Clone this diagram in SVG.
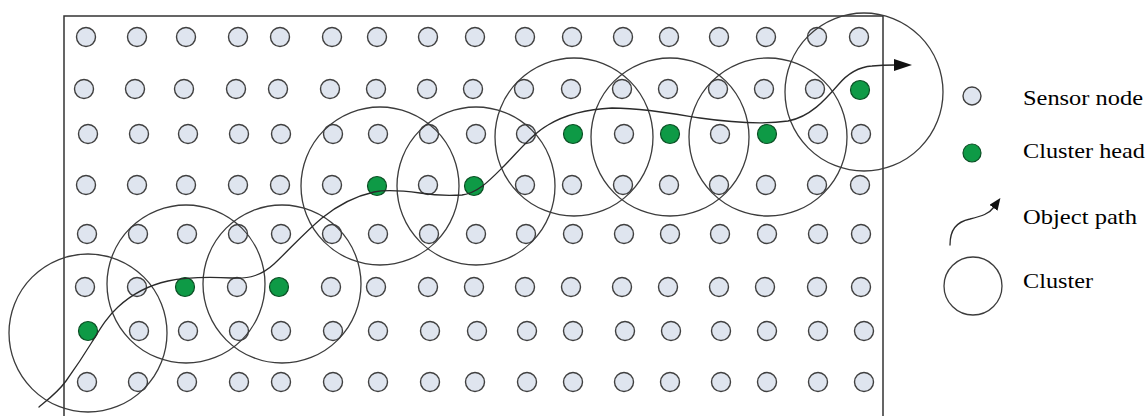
<svg xmlns="http://www.w3.org/2000/svg" width="1146" height="416" viewBox="0 0 1146 416">
<style>
.sn{fill:#dfe5ef;stroke:#404040;stroke-width:1.4}
.ch{fill:#0e9a46;stroke:#0b4f24;stroke-width:1.2}
.cl{fill:none;stroke:#3c3c3c;stroke-width:1.3}
.pa{fill:none;stroke:#2a2a2a;stroke-width:1.3;stroke-linejoin:round;stroke-linecap:round}
.lg{font-family:"Liberation Serif","Times New Roman",serif;font-size:22px;fill:#000}
</style>
<defs>
<marker id="ah" viewBox="0 0 18 12" refX="1" refY="6" markerWidth="18" markerHeight="12" markerUnits="userSpaceOnUse" orient="auto"><path d="M0,0 L18,6 L0,12 z" fill="#111"/></marker>
<marker id="ahs" viewBox="0 0 12 10" refX="1" refY="5" markerWidth="12" markerHeight="10" markerUnits="userSpaceOnUse" orient="auto"><path d="M0,0 L12,5 L0,10 z" fill="#111"/></marker>
</defs>
<rect width="1146" height="416" fill="#fff"/>
<rect id="field" x="64" y="16" width="819" height="420" fill="none" stroke="#333" stroke-width="1.5"/>
<g id="sensors">
<g id="n1-1"><circle class="sn" cx="86" cy="37" r="9.5"/></g>
<g id="n1-2"><circle class="sn" cx="137" cy="37" r="9.5"/></g>
<g id="n1-3"><circle class="sn" cx="186" cy="37" r="9.5"/></g>
<g id="n1-4"><circle class="sn" cx="238" cy="37" r="9.5"/></g>
<g id="n1-5"><circle class="sn" cx="280" cy="37" r="9.5"/></g>
<g id="n1-6"><circle class="sn" cx="332" cy="37" r="9.5"/></g>
<g id="n1-7"><circle class="sn" cx="377" cy="37" r="9.5"/></g>
<g id="n1-8"><circle class="sn" cx="428" cy="37" r="9.5"/></g>
<g id="n1-9"><circle class="sn" cx="475" cy="37" r="9.5"/></g>
<g id="n1-10"><circle class="sn" cx="525" cy="37" r="9.5"/></g>
<g id="n1-11"><circle class="sn" cx="572" cy="37" r="9.5"/></g>
<g id="n1-12"><circle class="sn" cx="623" cy="37" r="9.5"/></g>
<g id="n1-13"><circle class="sn" cx="669" cy="37" r="9.5"/></g>
<g id="n1-14"><circle class="sn" cx="719" cy="37" r="9.5"/></g>
<g id="n1-15"><circle class="sn" cx="766" cy="37" r="9.5"/></g>
<g id="n1-16"><circle class="sn" cx="817" cy="37" r="9.5"/></g>
<g id="n1-17"><circle class="sn" cx="859" cy="37" r="9.5"/></g>

<g id="n2-1"><circle class="sn" cx="84" cy="89" r="9.5"/></g>
<g id="n2-2"><circle class="sn" cx="135" cy="89" r="9.5"/></g>
<g id="n2-3"><circle class="sn" cx="184" cy="89" r="9.5"/></g>
<g id="n2-4"><circle class="sn" cx="236" cy="89" r="9.5"/></g>
<g id="n2-5"><circle class="sn" cx="278" cy="89" r="9.5"/></g>
<g id="n2-6"><circle class="sn" cx="330" cy="89" r="9.5"/></g>
<g id="n2-7"><circle class="sn" cx="376" cy="89" r="9.5"/></g>
<g id="n2-8"><circle class="sn" cx="427" cy="89" r="9.5"/></g>
<g id="n2-9"><circle class="sn" cx="473" cy="89" r="9.5"/></g>
<g id="n2-10"><circle class="sn" cx="524" cy="89" r="9.5"/></g>
<g id="n2-11"><circle class="sn" cx="571" cy="89" r="9.5"/></g>
<g id="n2-12"><circle class="sn" cx="622" cy="89" r="9.5"/></g>
<g id="n2-13"><circle class="sn" cx="668" cy="89" r="9.5"/></g>
<g id="n2-14"><circle class="sn" cx="718" cy="89" r="9.5"/></g>
<g id="n2-15"><circle class="sn" cx="764" cy="89" r="9.5"/></g>
<g id="n2-16"><circle class="sn" cx="815" cy="89" r="9.5"/></g>
<g id="n2-17"><circle class="ch" cx="860" cy="90" r="9.5"/></g>

<g id="n3-1"><circle class="sn" cx="88" cy="134" r="9.5"/></g>
<g id="n3-2"><circle class="sn" cx="139" cy="134" r="9.5"/></g>
<g id="n3-3"><circle class="sn" cx="188" cy="134" r="9.5"/></g>
<g id="n3-4"><circle class="sn" cx="239" cy="134" r="9.5"/></g>
<g id="n3-5"><circle class="sn" cx="281" cy="134" r="9.5"/></g>
<g id="n3-6"><circle class="sn" cx="333" cy="134" r="9.5"/></g>
<g id="n3-7"><circle class="sn" cx="378" cy="134" r="9.5"/></g>
<g id="n3-8"><circle class="sn" cx="429" cy="134" r="9.5"/></g>
<g id="n3-9"><circle class="sn" cx="476" cy="134" r="9.5"/></g>
<g id="n3-10"><circle class="sn" cx="526" cy="134" r="9.5"/></g>
<g id="n3-11"><circle class="ch" cx="573" cy="134" r="9.5"/></g>
<g id="n3-12"><circle class="sn" cx="624" cy="134" r="9.5"/></g>
<g id="n3-13"><circle class="ch" cx="670" cy="134" r="9.5"/></g>
<g id="n3-14"><circle class="sn" cx="720" cy="134" r="9.5"/></g>
<g id="n3-15"><circle class="ch" cx="767" cy="134" r="9.5"/></g>
<g id="n3-16"><circle class="sn" cx="818" cy="134" r="9.5"/></g>
<g id="n3-17"><circle class="sn" cx="861" cy="134" r="9.5"/></g>

<g id="n4-1"><circle class="sn" cx="86" cy="185" r="9.5"/></g>
<g id="n4-2"><circle class="sn" cx="137" cy="185" r="9.5"/></g>
<g id="n4-3"><circle class="sn" cx="186" cy="185" r="9.5"/></g>
<g id="n4-4"><circle class="sn" cx="238" cy="185" r="9.5"/></g>
<g id="n4-5"><circle class="sn" cx="280" cy="185" r="9.5"/></g>
<g id="n4-6"><circle class="sn" cx="332" cy="185" r="9.5"/></g>
<g id="n4-7"><circle class="ch" cx="377" cy="186" r="9.5"/></g>
<g id="n4-8"><circle class="sn" cx="428" cy="185" r="9.5"/></g>
<g id="n4-9"><circle class="ch" cx="474" cy="186" r="9.5"/></g>
<g id="n4-10"><circle class="sn" cx="525" cy="185" r="9.5"/></g>
<g id="n4-11"><circle class="sn" cx="572" cy="185" r="9.5"/></g>
<g id="n4-12"><circle class="sn" cx="623" cy="185" r="9.5"/></g>
<g id="n4-13"><circle class="sn" cx="669" cy="185" r="9.5"/></g>
<g id="n4-14"><circle class="sn" cx="719" cy="185" r="9.5"/></g>
<g id="n4-15"><circle class="sn" cx="766" cy="185" r="9.5"/></g>
<g id="n4-16"><circle class="sn" cx="817" cy="185" r="9.5"/></g>
<g id="n4-17"><circle class="sn" cx="860" cy="185" r="9.5"/></g>

<g id="n5-1"><circle class="sn" cx="87" cy="234" r="9.5"/></g>
<g id="n5-2"><circle class="sn" cx="138" cy="234" r="9.5"/></g>
<g id="n5-3"><circle class="sn" cx="187" cy="234" r="9.5"/></g>
<g id="n5-4"><circle class="sn" cx="238" cy="234" r="9.5"/></g>
<g id="n5-5"><circle class="sn" cx="281" cy="234" r="9.5"/></g>
<g id="n5-6"><circle class="sn" cx="332" cy="234" r="9.5"/></g>
<g id="n5-7"><circle class="sn" cx="378" cy="234" r="9.5"/></g>
<g id="n5-8"><circle class="sn" cx="429" cy="234" r="9.5"/></g>
<g id="n5-9"><circle class="sn" cx="476" cy="234" r="9.5"/></g>
<g id="n5-10"><circle class="sn" cx="526" cy="234" r="9.5"/></g>
<g id="n5-11"><circle class="sn" cx="573" cy="234" r="9.5"/></g>
<g id="n5-12"><circle class="sn" cx="624" cy="234" r="9.5"/></g>
<g id="n5-13"><circle class="sn" cx="670" cy="234" r="9.5"/></g>
<g id="n5-14"><circle class="sn" cx="720" cy="234" r="9.5"/></g>
<g id="n5-15"><circle class="sn" cx="767" cy="234" r="9.5"/></g>
<g id="n5-16"><circle class="sn" cx="818" cy="234" r="9.5"/></g>
<g id="n5-17"><circle class="sn" cx="861" cy="234" r="9.5"/></g>

<g id="n6-1"><circle class="sn" cx="85" cy="287" r="9.5"/></g>
<g id="n6-2"><circle class="sn" cx="137" cy="287" r="9.5"/></g>
<g id="n6-3"><circle class="ch" cx="185" cy="287" r="9.5"/></g>
<g id="n6-4"><circle class="sn" cx="237" cy="287" r="9.5"/></g>
<g id="n6-5"><circle class="ch" cx="279" cy="287" r="9.5"/></g>
<g id="n6-6"><circle class="sn" cx="331" cy="287" r="9.5"/></g>
<g id="n6-7"><circle class="sn" cx="376" cy="287" r="9.5"/></g>
<g id="n6-8"><circle class="sn" cx="428" cy="287" r="9.5"/></g>
<g id="n6-9"><circle class="sn" cx="474" cy="287" r="9.5"/></g>
<g id="n6-10"><circle class="sn" cx="525" cy="287" r="9.5"/></g>
<g id="n6-11"><circle class="sn" cx="571" cy="287" r="9.5"/></g>
<g id="n6-12"><circle class="sn" cx="622" cy="287" r="9.5"/></g>
<g id="n6-13"><circle class="sn" cx="668" cy="287" r="9.5"/></g>
<g id="n6-14"><circle class="sn" cx="719" cy="287" r="9.5"/></g>
<g id="n6-15"><circle class="sn" cx="765" cy="287" r="9.5"/></g>
<g id="n6-16"><circle class="sn" cx="817" cy="287" r="9.5"/></g>
<g id="n6-17"><circle class="sn" cx="861" cy="287" r="9.5"/></g>

<g id="n7-1"><circle class="ch" cx="88" cy="331" r="9.5"/></g>
<g id="n7-2"><circle class="sn" cx="139" cy="331" r="9.5"/></g>
<g id="n7-3"><circle class="sn" cx="188" cy="331" r="9.5"/></g>
<g id="n7-4"><circle class="sn" cx="239" cy="331" r="9.5"/></g>
<g id="n7-5"><circle class="sn" cx="281" cy="331" r="9.5"/></g>
<g id="n7-6"><circle class="sn" cx="333" cy="331" r="9.5"/></g>
<g id="n7-7"><circle class="sn" cx="378" cy="331" r="9.5"/></g>
<g id="n7-8"><circle class="sn" cx="430" cy="331" r="9.5"/></g>
<g id="n7-9"><circle class="sn" cx="477" cy="331" r="9.5"/></g>
<g id="n7-10"><circle class="sn" cx="527" cy="331" r="9.5"/></g>
<g id="n7-11"><circle class="sn" cx="573" cy="331" r="9.5"/></g>
<g id="n7-12"><circle class="sn" cx="625" cy="331" r="9.5"/></g>
<g id="n7-13"><circle class="sn" cx="671" cy="331" r="9.5"/></g>
<g id="n7-14"><circle class="sn" cx="721" cy="331" r="9.5"/></g>
<g id="n7-15"><circle class="sn" cx="767" cy="331" r="9.5"/></g>
<g id="n7-16"><circle class="sn" cx="818" cy="331" r="9.5"/></g>
<g id="n7-17"><circle class="sn" cx="864" cy="331" r="9.5"/></g>

<g id="n8-1"><circle class="sn" cx="87" cy="382" r="9.5"/></g>
<g id="n8-2"><circle class="sn" cx="138" cy="382" r="9.5"/></g>
<g id="n8-3"><circle class="sn" cx="187" cy="382" r="9.5"/></g>
<g id="n8-4"><circle class="sn" cx="239" cy="382" r="9.5"/></g>
<g id="n8-5"><circle class="sn" cx="281" cy="382" r="9.5"/></g>
<g id="n8-6"><circle class="sn" cx="333" cy="382" r="9.5"/></g>
<g id="n8-7"><circle class="sn" cx="378" cy="382" r="9.5"/></g>
<g id="n8-8"><circle class="sn" cx="430" cy="382" r="9.5"/></g>
<g id="n8-9"><circle class="sn" cx="475" cy="382" r="9.5"/></g>
<g id="n8-10"><circle class="sn" cx="527" cy="382" r="9.5"/></g>
<g id="n8-11"><circle class="sn" cx="573" cy="382" r="9.5"/></g>
<g id="n8-12"><circle class="sn" cx="624" cy="382" r="9.5"/></g>
<g id="n8-13"><circle class="sn" cx="670" cy="382" r="9.5"/></g>
<g id="n8-14"><circle class="sn" cx="721" cy="382" r="9.5"/></g>
<g id="n8-15"><circle class="sn" cx="767" cy="382" r="9.5"/></g>
<g id="n8-16"><circle class="sn" cx="818" cy="382" r="9.5"/></g>
<g id="n8-17"><circle class="sn" cx="864" cy="382" r="9.5"/></g>
</g>
<g id="clusters">
<g id="cluster1"><circle class="cl" cx="88" cy="333" r="79"/></g>
<g id="cluster2"><circle class="cl" cx="186" cy="284" r="79"/></g>
<g id="cluster3"><circle class="cl" cx="282" cy="284" r="79"/></g>
<g id="cluster4"><circle class="cl" cx="380" cy="186" r="79"/></g>
<g id="cluster5"><circle class="cl" cx="476" cy="186" r="79"/></g>
<g id="cluster6"><circle class="cl" cx="574" cy="137" r="79"/></g>
<g id="cluster7"><circle class="cl" cx="670" cy="137" r="79"/></g>
<g id="cluster8"><circle class="cl" cx="768" cy="137" r="79"/></g>
<g id="cluster9"><circle class="cl" cx="864" cy="92" r="79"/></g>
</g>
<g id="connectors">
<path id="object-path" class="pa" marker-end="url(#ah)" d="M39,407 C50,398 58,392 66,381 C76,367 84,355 92,342 C100,329 106,318 118,307 C132,294 150,285 168,281 C186,277 210,277 232,278 C250,279 262,275 274,264 C290,249 304,233 322,218 C338,205 356,196 374,192 C388,189 405,191 420,193 C432,195 448,196 462,195 C478,193 490,180 504,166 C518,152 532,134 548,125 C568,113 590,109 612,108 C640,108 668,113 700,118 C728,122 760,125 788,121 C810,117 825,100 838,85 C848,73 858,67 872,66 C882,65 888,65 895,65"/>
</g>
<g id="legend">
<g id="legend-sensor"><circle class="sn" cx="972" cy="96" r="9"/><text class="lg" x="1023" y="105" textLength="120" lengthAdjust="spacingAndGlyphs">Sensor node</text></g>
<g id="legend-head"><circle class="ch" cx="972" cy="153" r="9"/><text class="lg" x="1023" y="158" textLength="122" lengthAdjust="spacingAndGlyphs">Cluster head</text></g>
<g id="legend-path"><path class="pa" marker-end="url(#ahs)" d="M950,245 C950,230 956,222 970,219 C982,216 989,214 994,207"/><text class="lg" x="1023" y="224" textLength="114" lengthAdjust="spacingAndGlyphs">Object path</text></g>
<g id="legend-cluster"><circle class="cl" cx="973" cy="286" r="29"/><text class="lg" x="1023" y="288" textLength="70" lengthAdjust="spacingAndGlyphs">Cluster</text></g>
</g>
</svg>
